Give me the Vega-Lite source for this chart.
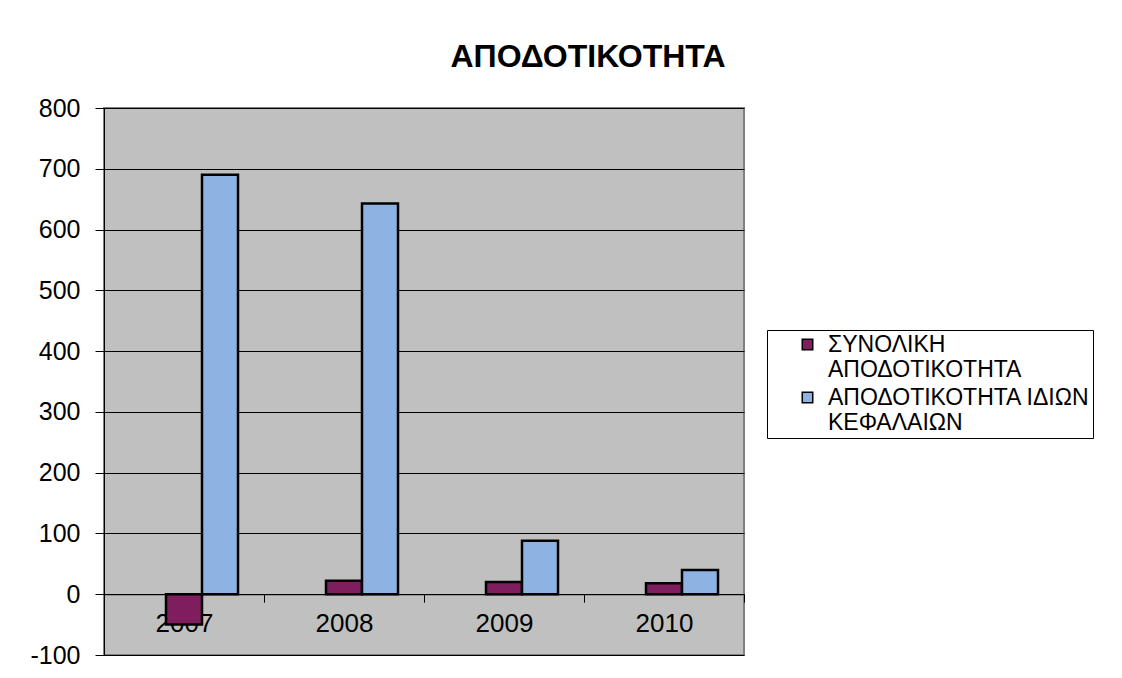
{
  "$schema": "https://vega.github.io/schema/vega-lite/v6.json",
  "width": 640,
  "height": 547,
  "autosize": {"type": "none"},
  "padding": {"left": 104, "top": 108, "right": 378, "bottom": 23},
  "background": "white",
  "title": {
    "text": "ΑΠΟΔΟΤΙΚΟΤΗΤΑ",
    "font": "Liberation Sans",
    "fontSize": 32,
    "fontWeight": "bold",
    "color": "black",
    "anchor": "middle",
    "baseline": "alphabetic",
    "dx": 164,
    "offset": -3
  },
  "data": {
    "values": [
      {"year": "2007", "series": "ΣΥΝΟΛΙΚΗ ΑΠΟΔΟΤΙΚΟΤΗΤΑ", "value": -50},
      {"year": "2007", "series": "ΑΠΟΔΟΤΙΚΟΤΗΤΑ ΙΔΙΩΝ ΚΕΦΑΛΑΙΩΝ", "value": 690},
      {"year": "2008", "series": "ΣΥΝΟΛΙΚΗ ΑΠΟΔΟΤΙΚΟΤΗΤΑ", "value": 22},
      {"year": "2008", "series": "ΑΠΟΔΟΤΙΚΟΤΗΤΑ ΙΔΙΩΝ ΚΕΦΑΛΑΙΩΝ", "value": 643},
      {"year": "2009", "series": "ΣΥΝΟΛΙΚΗ ΑΠΟΔΟΤΙΚΟΤΗΤΑ", "value": 20},
      {"year": "2009", "series": "ΑΠΟΔΟΤΙΚΟΤΗΤΑ ΙΔΙΩΝ ΚΕΦΑΛΑΙΩΝ", "value": 88},
      {"year": "2010", "series": "ΣΥΝΟΛΙΚΗ ΑΠΟΔΟΤΙΚΟΤΗΤΑ", "value": 18},
      {"year": "2010", "series": "ΑΠΟΔΟΤΙΚΟΤΗΤΑ ΙΔΙΩΝ ΚΕΦΑΛΑΙΩΝ", "value": 40}
    ]
  },
  "mark": {"type": "bar", "stroke": "black", "strokeWidth": 2.5},
  "encoding": {
    "x": {
      "field": "year",
      "type": "nominal",
      "scale": {"paddingInner": 0, "paddingOuter": 0},
      "axis": {
        "title": null,
        "labelAngle": 0,
        "labelFont": "Liberation Sans",
        "labelFontSize": 26,
        "labelColor": "black",
        "labelPadding": 8,
        "tickBand": "extent",
        "tickColor": "black",
        "tickSize": 8,
        "domainColor": "black",
        "domainWidth": 1,
        "offset": -60.78,
        "grid": false
      }
    },
    "xOffset": {
      "field": "series",
      "type": "nominal",
      "scale": {
        "domain": ["_", "ΣΥΝΟΛΙΚΗ ΑΠΟΔΟΤΙΚΟΤΗΤΑ", "ΑΠΟΔΟΤΙΚΟΤΗΤΑ ΙΔΙΩΝ ΚΕΦΑΛΑΙΩΝ"],
        "paddingInner": 0,
        "paddingOuter": 0.722
      }
    },
    "y": {
      "field": "value",
      "type": "quantitative",
      "scale": {"domain": [-100, 800], "nice": false, "zero": false},
      "axis": {
        "title": null,
        "values": [-100, 0, 100, 200, 300, 400, 500, 600, 700, 800],
        "labelExpr": "'' + datum.value",
        "labelFont": "Liberation Sans",
        "labelFontSize": 25,
        "labelColor": "black",
        "labelPadding": 15,
        "tickColor": "black",
        "tickSize": 9,
        "domainColor": "black",
        "grid": true,
        "gridColor": "black",
        "gridOpacity": 1,
        "gridWidth": 1
      }
    },
    "color": {
      "field": "series",
      "type": "nominal",
      "sort": ["ΣΥΝΟΛΙΚΗ ΑΠΟΔΟΤΙΚΟΤΗΤΑ", "ΑΠΟΔΟΤΙΚΟΤΗΤΑ ΙΔΙΩΝ ΚΕΦΑΛΑΙΩΝ"],
      "scale": {"range": ["#7E1E5E", "#8EB3E3"]},
      "legend": {
        "title": null,
        "orient": "none",
        "legendX": 663,
        "legendY": 222,
        "direction": "vertical",
        "labelFont": "Liberation Sans",
        "labelFontSize": 23,
        "labelColor": "black",
        "labelLimit": 400,
        "labelExpr": "datum.label == 'ΣΥΝΟΛΙΚΗ ΑΠΟΔΟΤΙΚΟΤΗΤΑ' ? ['ΣΥΝΟΛΙΚΗ', 'ΑΠΟΔΟΤΙΚΟΤΗΤΑ'] : ['ΑΠΟΔΟΤΙΚΟΤΗΤΑ ΙΔΙΩΝ', 'ΚΕΦΑΛΑΙΩΝ']",
        "symbolType": "square",
        "symbolSize": 110,
        "symbolStrokeColor": "black",
        "symbolStrokeWidth": 1.5,
        "symbolOpacity": 1,
        "symbolOffset": 26,
        "strokeColor": "black",
        "fillColor": "white",
        "padding": 3,
        "rowPadding": 4,
        "labelOffset": 9
      }
    }
  },
  "config": {
    "view": {"fill": "#C0C0C0", "stroke": "#808080", "strokeWidth": 2},
    "font": "Liberation Sans"
  }
}
